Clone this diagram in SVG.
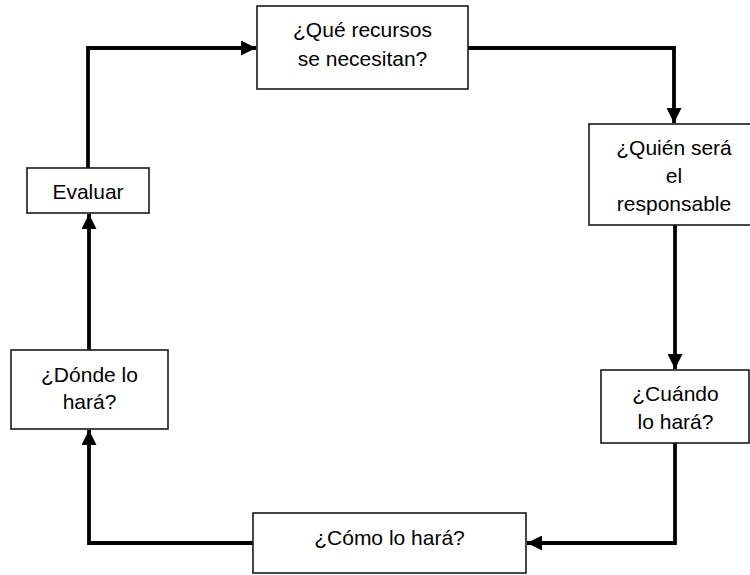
<svg xmlns="http://www.w3.org/2000/svg" width="750" height="575" viewBox="0 0 750 575">
<style>
.box{fill:#fff;stroke:#1a1a1a;stroke-width:1.6}
.lbl{font-family:"Liberation Sans",Arial,sans-serif;font-size:21px;fill:#000;text-anchor:middle}
.con{fill:none;stroke:#000;stroke-width:3.8;stroke-linejoin:miter}
</style>
<defs>
<marker id="ah" markerUnits="userSpaceOnUse" markerWidth="16" markerHeight="15" refX="15" refY="7.5" orient="auto">
<path d="M0,0 L15,7.5 L0,15 z" fill="#000"/>
</marker>
</defs>
<rect width="750" height="575" fill="#fff"/>
<g id="connectors">
<path class="con" d="M88,168 V48 H256" marker-end="url(#ah)"/>
<path class="con" d="M468,48 H674 V123" marker-end="url(#ah)"/>
<path class="con" d="M675,225 V369" marker-end="url(#ah)"/>
<path class="con" d="M675,443 V543 H527" marker-end="url(#ah)"/>
<path class="con" d="M253,543 H89 V430" marker-end="url(#ah)"/>
<path class="con" d="M89,350 V214" marker-end="url(#ah)"/>
</g>
<g id="node-recursos">
<rect class="box" x="257" y="6" width="211" height="83"/>
<text class="lbl" x="362.5" y="37">¿Qué recursos</text>
<text class="lbl" x="362.5" y="66">se necesitan?</text>
</g>
<g id="node-quien">
<rect class="box" x="589" y="124" width="170" height="101"/>
<text class="lbl" x="674" y="155">¿Quién será</text>
<text class="lbl" x="674" y="183">el</text>
<text class="lbl" x="674" y="211">responsable</text>
</g>
<g id="node-cuando">
<rect class="box" x="601" y="370" width="148" height="73"/>
<text class="lbl" x="675.5" y="401">¿Cuándo</text>
<text class="lbl" x="675.5" y="429">lo hará?</text>
</g>
<g id="node-como">
<rect class="box" x="253" y="513" width="273" height="60"/>
<text class="lbl" x="389.5" y="545">¿Cómo lo hará?</text>
</g>
<g id="node-donde">
<rect class="box" x="11" y="350" width="157" height="79"/>
<text class="lbl" x="89.5" y="382">¿Dónde lo</text>
<text class="lbl" x="89.5" y="409">hará?</text>
</g>
<g id="node-evaluar">
<rect class="box" x="27" y="168" width="122" height="45"/>
<text class="lbl" x="88" y="199">Evaluar</text>
</g>
</svg>
